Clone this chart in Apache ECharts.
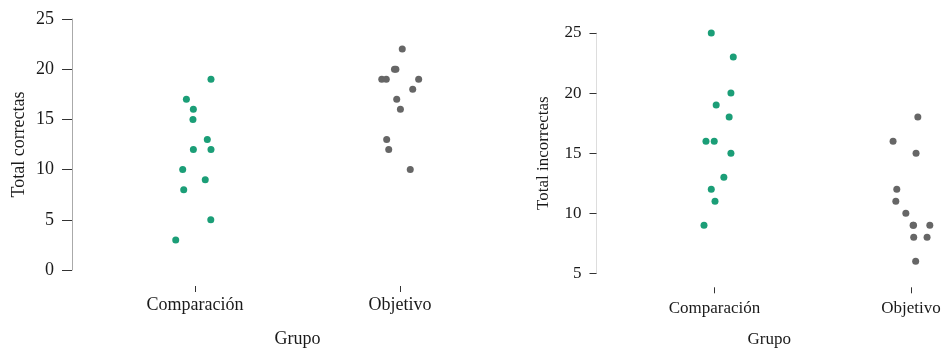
<!DOCTYPE html>
<html>
<head>
<meta charset="utf-8">
<script src="https://cdn.jsdelivr.net/npm/echarts@6/dist/echarts.min.js"></script>
<style>
  html, body { margin: 0; padding: 0; background: #ffffff; }
  #chart { width: 942px; height: 348px; }
</style>
</head>
<body>
<div id="chart"></div>
<script>
// Groups on the horizontal axis (positions 1 and 2)
const groups = ['Comparación', 'Objetivo'];

// Total correct answers per participant
const correctasComparacion = [19, 17, 16, 15, 13, 12, 12, 10, 9, 8, 5, 3];
const correctasObjetivo    = [22, 20, 20, 19, 19, 19, 18, 17, 16, 13, 12, 10];

// Total incorrect answers per participant
const incorrectasComparacion = [25, 23, 20, 19, 18, 16, 16, 15, 13, 12, 11, 9];
const incorrectasObjetivo    = [18, 16, 15, 12, 11, 10, 9, 9, 9, 8, 8, 6];

// Horizontal jitter of each point, in group units
const jitterCorrComp = [0.078, -0.042, -0.008, -0.010, 0.060, -0.008, 0.078, -0.060, 0.050, -0.055, 0.077, -0.094];
const jitterCorrObj  = [0.011, -0.027, -0.020, -0.089, -0.067, 0.091, 0.062, -0.016, 0.002, -0.065, -0.055, 0.050];
const jitterIncComp  = [-0.016, 0.096, 0.084, 0.009, 0.075, -0.043, -0.001, 0.084, 0.048, -0.016, 0.003, -0.053];
const jitterIncObj   = [0.035, -0.091, 0.026, -0.072, -0.077, -0.026, 0.011, 0.096, 0.013, 0.014, 0.082, 0.024];

// Y axis ticks
const ticksCorrectas = [0, 5, 10, 15, 20, 25];
const ticksIncorrectas = [5, 10, 15, 20, 25];

const GREEN = '#1b9e77';
const GREY = '#666666';
const FONT = 'Liberation Serif';
const TEXT = '#1a1a1a';

function points(groupIdx, values, jitter) {
  return values.map((v, i) => [groupIdx + 1 + jitter[i], v]);
}

// The right panel runs off the canvas edge, so its x range stops short
function xAxisFor(gridIndex, fontSize, offset, maxX, labelMargin, nameGap) {
  return {
    type: 'value', gridIndex: gridIndex,
    min: 0.4, max: maxX,
    offset: offset,
    splitLine: { show: false },
    axisLine: { show: false, onZero: false },
    axisTick: { show: true, length: 6, customValues: [1, 2], lineStyle: { color: '#333', width: 1 } },
    axisLabel: {
      customValues: [1, 2],
      formatter: v => groups[Math.round(v) - 1],
      fontFamily: FONT, fontSize: fontSize, color: TEXT, margin: labelMargin
    },
    name: 'Grupo', nameLocation: 'middle', nameGap: nameGap,
    nameTextStyle: { fontFamily: FONT, fontSize: fontSize, color: TEXT }
  };
}

function yAxisFor(gridIndex, name, ticks, fontSize, lineColor, tickLen, nameGap) {
  return {
    type: 'value', gridIndex: gridIndex,
    min: ticks[0], max: ticks[ticks.length - 1], interval: 5,
    splitLine: { show: false },
    axisLine: { show: true, onZero: false, lineStyle: { color: lineColor, width: 1 } },
    axisTick: { show: true, inside: false, length: tickLen, lineStyle: { color: '#333', width: 1 } },
    axisLabel: { fontFamily: FONT, fontSize: fontSize, color: TEXT, margin: tickLen + 8 },
    name: name, nameLocation: 'middle', nameRotate: 90, nameGap: nameGap,
    nameTextStyle: { fontFamily: FONT, fontSize: fontSize, color: TEXT }
  };
}

const chart = echarts.init(document.getElementById('chart'), null, { renderer: 'canvas' });
chart.setOption({
  backgroundColor: '#ffffff',
  animation: false,
  grid: [
    { left: 72, top: 19, width: 451, height: 251, outerBoundsMode: 'none' },
    { left: 596.5, top: 33, right: 0, height: 240.3, outerBoundsMode: 'none' }
  ],
  xAxis: [
    xAxisFor(0, 18, 16, 2.6, 10, 44),
    xAxisFor(1, 17, 14, 2.158, 13, 44)
  ],
  yAxis: [
    yAxisFor(0, 'Total correctas', ticksCorrectas, 18, '#aaaaaa', 10, 44),
    yAxisFor(1, 'Total incorrectas', ticksIncorrectas, 17, '#dddddd', 7, 44)
  ],
  series: [
    { type: 'scatter', xAxisIndex: 0, yAxisIndex: 0, symbolSize: 7,
      itemStyle: { color: GREEN, opacity: 1 }, data: points(0, correctasComparacion, jitterCorrComp) },
    { type: 'scatter', xAxisIndex: 0, yAxisIndex: 0, symbolSize: 7,
      itemStyle: { color: GREY, opacity: 1 }, data: points(1, correctasObjetivo, jitterCorrObj) },
    { type: 'scatter', xAxisIndex: 1, yAxisIndex: 1, symbolSize: 7,
      itemStyle: { color: GREEN, opacity: 1 }, data: points(0, incorrectasComparacion, jitterIncComp) },
    { type: 'scatter', xAxisIndex: 1, yAxisIndex: 1, symbolSize: 7,
      itemStyle: { color: GREY, opacity: 1 }, data: points(1, incorrectasObjetivo, jitterIncObj) }
  ]
});
</script>
</body>
</html>
